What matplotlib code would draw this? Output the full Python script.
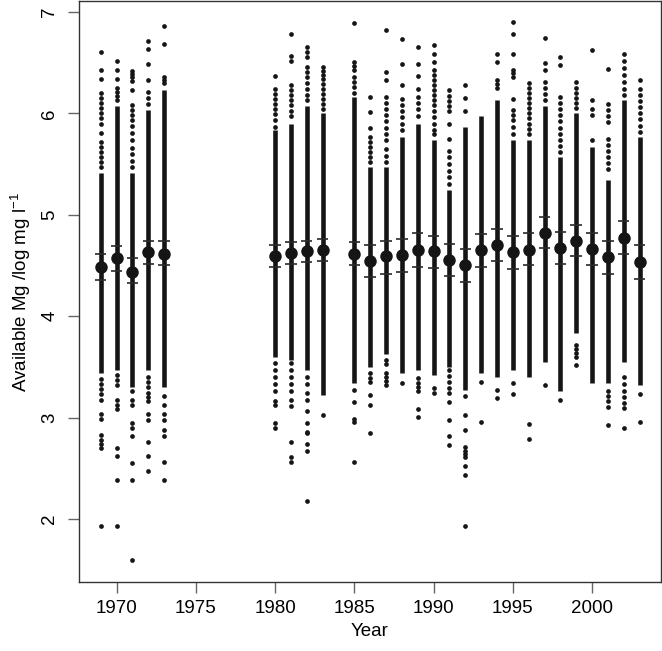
import matplotlib
matplotlib.use('Agg')
import matplotlib.pyplot as plt

plt.rcParams['font.family'] = ['Liberation Sans', 'DejaVu Sans']
plt.rcParams['mathtext.fontset'] = 'custom'
plt.rcParams['mathtext.rm'] = 'Liberation Sans'
plt.rcParams['mathtext.default'] = 'regular'

# sampling years
years = [1969, 1970, 1971, 1972, 1973,
         1980, 1981, 1982, 1983,
         1985, 1986, 1987, 1988, 1989, 1990, 1991, 1992, 1993, 1994,
         1995, 1996, 1997, 1998, 1999, 2000, 2001, 2002, 2003]

# yearly mean and the upper / lower bar
means = [4.49, 4.57, 4.44, 4.63, 4.61,
         4.59, 4.62, 4.64, 4.65,
         4.61, 4.54, 4.59, 4.60, 4.65, 4.64, 4.55, 4.50, 4.65, 4.70,
         4.63, 4.65, 4.82, 4.67, 4.74, 4.66, 4.58, 4.77, 4.53]
upper = [4.61, 4.69, 4.57, 4.74, 4.74,
         4.70, 4.73, 4.74, 4.76,
         4.73, 4.70, 4.74, 4.76, 4.82, 4.79, 4.71, 4.66, 4.81, 4.86,
         4.79, 4.82, 4.98, 4.83, 4.90, 4.82, 4.74, 4.94, 4.70]
lower = [4.36, 4.45, 4.33, 4.51, 4.50,
         4.49, 4.51, 4.53, 4.54,
         4.50, 4.39, 4.42, 4.44, 4.49, 4.48, 4.40, 4.34, 4.49, 4.54,
         4.47, 4.50, 4.67, 4.51, 4.59, 4.50, 4.42, 4.61, 4.37]

# range where the site values form a solid band
dense_top = [5.41, 6.07, 5.41, 6.03, 6.23,
             5.84, 5.90, 6.07, 6.00,
             6.16, 5.47, 5.47, 5.77, 5.90, 5.74, 5.24, 5.87, 5.97, 6.13,
             5.74, 5.74, 6.07, 5.57, 6.00, 5.67, 5.34, 6.13, 5.77]
dense_bot = [3.44, 3.47, 3.30, 3.47, 3.30,
             3.60, 3.57, 3.47, 3.22,
             3.34, 3.50, 3.63, 3.44, 3.47, 3.42, 3.50, 3.27, 3.44, 3.40,
             3.47, 3.40, 3.55, 3.26, 3.83, 3.34, 3.34, 3.55, 3.32]

# separate site values outside the band
singles = [
    [6.61, 6.43, 6.34, 6.20, 6.15, 6.10, 6.05, 6.00, 5.95, 5.90, 5.81, 5.72,
     5.67, 5.62, 5.57, 5.52, 5.47, 3.38, 3.33, 3.28, 3.23, 3.17, 3.04, 2.99,
     2.83, 2.78, 2.74, 2.70, 1.93],
    [6.52, 6.43, 6.34, 6.25, 6.21, 6.17, 6.13, 3.42, 3.37, 3.32, 3.17, 3.12,
     3.08, 2.70, 2.62, 2.38, 1.93],
    [6.42, 6.39, 6.36, 6.32, 6.23, 6.08, 6.03, 5.98, 5.93, 5.88, 5.81, 5.74,
     5.66, 5.60, 5.53, 5.47, 3.26, 3.17, 3.12, 2.95, 2.90, 2.82, 2.55, 2.38,
     1.60],
    [6.71, 6.63, 6.49, 6.33, 6.21, 6.15, 6.09, 3.40, 3.35, 3.30, 3.24, 3.20,
     3.16, 3.04, 2.98, 2.76, 2.62, 2.47],
    [6.86, 6.68, 6.36, 6.33, 6.30, 3.21, 3.12, 3.04, 2.98, 2.88, 2.82, 2.56,
     2.38],
    [6.37, 6.24, 6.19, 6.14, 6.09, 6.04, 5.99, 5.93, 5.87, 3.54, 3.47, 3.40,
     3.33, 3.26, 3.16, 3.12, 2.95, 2.90],
    [6.78, 6.57, 6.52, 6.28, 6.23, 6.18, 6.13, 6.08, 6.02, 5.97, 3.54, 3.47,
     3.40, 3.33, 3.26, 3.17, 3.11, 2.76, 2.61, 2.56],
    [6.65, 6.61, 6.56, 6.46, 6.41, 6.36, 6.30, 6.24, 6.18, 6.13, 3.40, 3.33,
     3.24, 3.17, 3.07, 2.95, 2.86, 2.85, 2.74, 2.67, 2.18],
    [6.46, 6.42, 6.38, 6.34, 6.29, 6.24, 6.19, 6.14, 6.09, 6.04, 3.03],
    [6.89, 6.51, 6.47, 6.43, 6.36, 6.31, 6.26, 6.20, 3.27, 3.15, 2.99, 2.96,
     2.56],
    [6.16, 6.01, 5.86, 5.77, 5.72, 5.67, 5.62, 5.57, 5.52, 3.44, 3.39, 3.35,
     3.22, 3.12, 2.85],
    [6.82, 6.41, 6.33, 6.16, 6.10, 6.04, 5.98, 5.92, 5.86, 5.80, 5.74, 5.65,
     5.58, 5.52, 3.57, 3.53, 3.44, 3.40, 3.36, 3.32],
    [6.73, 6.49, 6.28, 6.14, 6.08, 6.02, 5.96, 5.90, 5.84, 3.34],
    [6.65, 6.49, 6.37, 6.24, 6.16, 6.10, 6.04, 5.97, 3.39, 3.34, 3.30, 3.26,
     3.08, 3.01],
    [6.67, 6.59, 6.51, 6.43, 6.38, 6.33, 6.28, 6.23, 6.18, 6.13, 6.08, 6.02,
     5.96, 5.90, 5.84, 5.80, 3.29, 3.24],
    [6.23, 6.17, 6.12, 6.07, 6.02, 5.90, 5.75, 5.63, 5.57, 5.50, 5.43, 5.37,
     5.30, 3.47, 3.41, 3.35, 3.29, 3.24, 3.15, 2.98, 2.82, 2.73],
    [6.28, 6.15, 6.02, 3.21, 3.03, 2.88, 2.71, 2.67, 2.64, 2.61, 2.52, 2.43,
     1.93],
    [3.35, 2.96],
    [6.59, 6.51, 6.33, 6.29, 6.25, 3.27, 3.19],
    [6.90, 6.78, 6.59, 6.43, 6.40, 6.36, 6.14, 6.03, 5.98, 5.93, 5.87, 5.80,
     3.34, 3.23],
    [6.30, 6.25, 6.20, 6.15, 6.10, 6.05, 6.00, 5.95, 5.90, 5.85, 5.80, 2.94,
     2.79],
    [6.74, 6.50, 6.43, 6.31, 6.25, 6.19, 6.13, 3.32],
    [6.56, 6.48, 6.16, 6.10, 6.04, 5.98, 5.92, 5.86, 5.80, 5.74, 5.68, 5.62,
     3.17],
    [6.31, 6.25, 6.20, 6.15, 6.10, 6.05, 3.72, 3.68, 3.64, 3.60, 3.52],
    [6.62, 6.13, 6.04, 5.98, 5.74],
    [6.44, 6.09, 6.03, 5.97, 5.91, 5.75, 5.69, 5.63, 5.57, 5.51, 5.45, 3.26,
     3.21, 3.16, 3.10, 2.93],
    [6.59, 6.52, 6.45, 6.38, 6.31, 6.24, 6.18, 3.40, 3.33, 3.26, 3.20, 3.14,
     3.09, 2.90],
    [6.33, 6.24, 6.18, 6.12, 6.06, 6.00, 5.94, 5.88, 5.82, 3.23, 2.96],
]

xticks = [1970, 1975, 1980, 1985, 1990, 1995, 2000]
yticks = [2, 3, 4, 5, 6, 7]

fig = plt.figure(figsize=(6.62, 6.51), dpi=100)
ax = fig.add_axes([79 / 662, 69 / 651, 582 / 662, 581 / 651])

dot = '#151515'
ax.vlines(years, dense_bot, dense_top, color=dot, lw=3.3, zorder=2)
for yr, vals in zip(years, singles):
    ax.plot([yr] * len(vals), vals, 'o', color=dot, ms=3.4, mew=0, zorder=2)

half = 0.36
ax.hlines(upper, [y - half for y in years], [y + half for y in years],
          color='#2a2a2a', lw=1.2, zorder=3)
ax.hlines(lower, [y - half for y in years], [y + half for y in years],
          color='#2a2a2a', lw=1.2, zorder=3)
ax.plot(years, means, 'o', color=dot, ms=9, mew=0, zorder=4)

ax.set_xlim(1967.63, 2004.35)
ax.set_ylim(1.379, 7.108)
ax.set_xticks(xticks)
ax.set_yticks(yticks)
ax.tick_params(axis='both', length=8, width=1, color='#666666',
               labelsize=13.5, pad=5)
ax.tick_params(axis='y', pad=7)
for lab in ax.get_yticklabels():
    lab.set_rotation(90)
    lab.set_va('center')
for s in ax.spines.values():
    s.set_color('#333333')
    s.set_linewidth(1)

ax.set_xlabel('Year', fontsize=13.5, labelpad=4)
ax.set_ylabel(r'Available Mg /log mg l$^{-1}$', fontsize=13.5, labelpad=6)

fig.savefig('out.png', dpi=100)
